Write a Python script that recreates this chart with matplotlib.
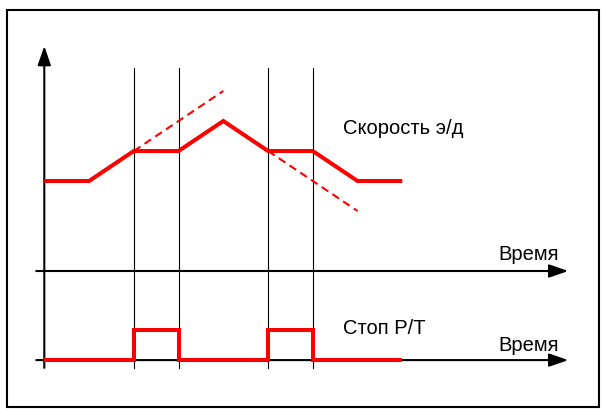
import matplotlib
matplotlib.use("Agg")
import matplotlib.pyplot as plt
from matplotlib.patches import Rectangle

plt.rcParams['font.family'] = ['Liberation Sans', 'DejaVu Sans']

# time events (units) and speed levels
t_speed = [0, 1, 2, 3, 4, 5, 6, 7, 8]
speed = [3, 3, 4, 4, 5, 4, 4, 3, 3]
# dashed extrapolations (continued acceleration / deceleration)
t_accel = [2, 4]
v_accel = [4, 6]
t_decel = [5, 7]
v_decel = [4, 2]
# brake (Стоп Р/Т) signal
t_brake = [0, 2, 2, 3, 3, 5, 5, 6, 6, 8]
brake = [0, 0, 1, 1, 0, 0, 1, 1, 0, 0]
brake_base = -2.97
# moments marked with thin vertical lines
t_marks = [2, 3, 5, 6]

label_speed = "Скорость э/д"
label_brake = "Стоп Р/Т"
label_time = "Время"

fig = plt.figure(figsize=(6.02, 4.10), dpi=100)
ax = fig.add_axes([0, 0, 1, 1])
ax.set_xlim(-44.3 / 44.75, 557.7 / 44.75)
ax.set_ylim(-138 / 30, 272 / 30)
ax.axis('off')

# frame
fig.patches.append(Rectangle((7 / 602, 2 / 410), 592 / 602, 397 / 410,
                             transform=fig.transFigure, fill=False,
                             edgecolor='black', lw=1.5))

# thin vertical markers
for t in t_marks:
    ax.plot([t, t], [-3.23, 6.77], color='black', lw=0.8, zorder=1)

arrow = dict(arrowstyle='-|>,head_length=0.58,head_width=0.2', color='black',
             lw=1.5, mutation_scale=20, shrinkA=0, shrinkB=0)
# vertical axis
ax.annotate('', xy=(0, 7.5), xytext=(0, -3.23), arrowprops=arrow)
# upper time axis
ax.annotate('', xy=(11.71, 0), xytext=(-0.18, 0), arrowprops=arrow)
# lower time axis
ax.annotate('', xy=(11.71, brake_base), xytext=(-0.18, brake_base), arrowprops=arrow)

# speed curve and extrapolations
ax.plot(t_speed, speed, color='red', lw=2.9, solid_joinstyle='miter',
        solid_capstyle='butt', zorder=3)
ax.plot(t_accel, v_accel, color='red', lw=1.5, dashes=(3.8, 2.4), zorder=3)
ax.plot(t_decel, v_decel, color='red', lw=1.5, dashes=(3.8, 2.4), zorder=3)

# brake pulses
ax.plot(t_brake, [b + brake_base for b in brake], color='red', lw=2.9,
        solid_joinstyle='miter', solid_capstyle='butt', zorder=3)

ax.text(6.67, 4.61, label_speed, fontsize=14.5, va='baseline')
ax.text(6.67, -2.08, label_brake, fontsize=14.5, va='baseline')
ax.text(10.15, 0.4, label_time, fontsize=14.5, va='baseline')
ax.text(10.15, -2.63, label_time, fontsize=14.5, va='baseline')

fig.savefig('out.png', dpi=100)
